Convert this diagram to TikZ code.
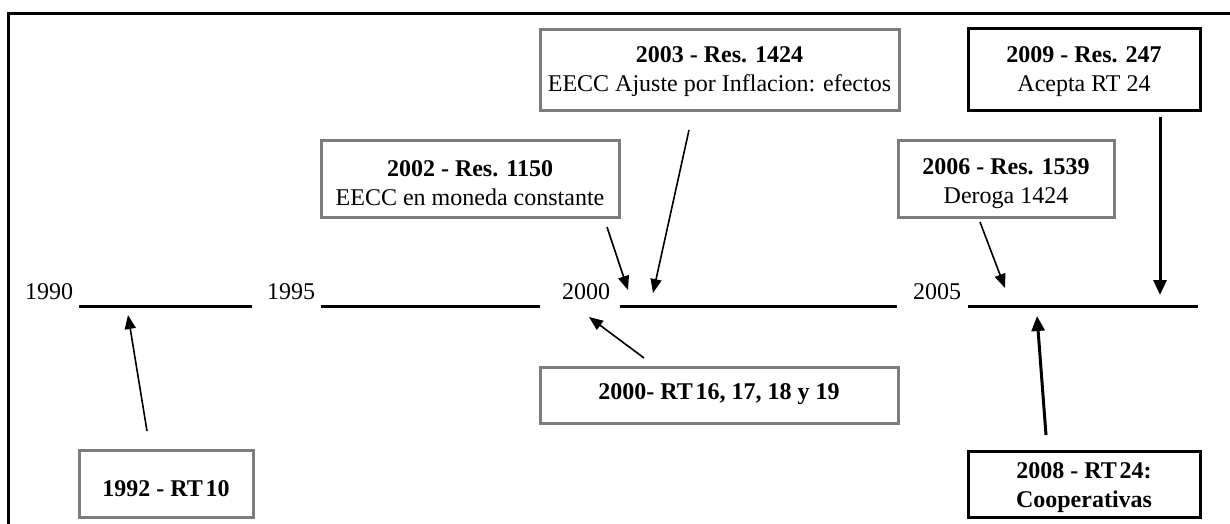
\documentclass[tikz,border=0pt]{standalone}
\usepackage{fontspec}
\setmainfont{Liberation Serif}
\usetikzlibrary{arrows.meta}
\definecolor{boxgray}{RGB}{125,125,125}
\begin{document}
\begin{tikzpicture}[x=1pt,y=-1pt,
  txt/.style={font=\fontsize{24}{29}\selectfont, align=center, inner sep=0pt},
  gbox/.style={draw=boxgray, line width=3pt, fill=white, inner sep=0pt},
  kbox/.style={draw=black, line width=3pt, fill=white, inner sep=0pt},
  arr/.style={line width=1.6pt, -{Triangle[length=14pt,width=11pt]}},
  tarr/.style={line width=3pt, -{Triangle[length=15pt,width=13pt]}},
  tline/.style={line width=3pt},
  yearlbl/.style={font=\fontsize{24}{26}\selectfont, inner sep=0pt}]
\useasboundingbox (0,0) rectangle (1230,524);
\fill[white] (0,0) rectangle (1230,524);
% frame
\draw[line width=3pt] (8.5,620) -- (8.5,14) -- (1300,14);

% boxes
\node[gbox, minimum width=359, minimum height=81,
  label={[txt,yshift=-2pt]center:{\textbf{2003 - Res. 1424}\\EECC Ajuste por Inflacion: efectos}}]
  (b2003) at (719.5,70) {};
\node[kbox, minimum width=232, minimum height=82,
  label={[txt,yshift=-2pt]center:{\textbf{2009 - Res. 247}\\Acepta RT 24}}]
  (b2009) at (1084,70) {};
\node[gbox, minimum width=298, minimum height=77,
  label={[txt,yshift=-5pt]center:{\textbf{2002 - Res. 1150}\\EECC en moneda constante}}]
  (b2002) at (470,178.5) {};
\node[gbox, minimum width=216, minimum height=77,
  label={[txt,yshift=-5pt]center:{\textbf{2006 - Res. 1539}\\Deroga 1424}}]
  (b2006) at (1006,178.5) {};
\node[gbox, minimum width=358, minimum height=56,
  label={[txt,yshift=1pt]center:{\textbf{2000- RT\hspace{0.12em}16, 17, 18 y 19}}}]
  (b2000) at (719,395) {};
\node[gbox, minimum width=174, minimum height=67,
  label={[txt,yshift=-5pt]center:{\textbf{1992 - RT\hspace{0.12em}10}}}]
  (b1992) at (166,483.5) {};
\node[kbox, minimum width=232, minimum height=66,
  label={[txt,yshift=-4pt]center:{\textbf{2008 - RT\hspace{0.12em}24:}\\\textbf{Cooperativas}}}]
  (b2008) at (1084,484) {};

% timeline
\node[yearlbl] (y1990) at (49,292) {1990};
\node[yearlbl] (y1995) at (291,292) {1995};
\node[yearlbl] (y2000) at (586,292) {2000};
\node[yearlbl] (y2005) at (937,292) {2005};
\coordinate (l1a) at (79,306);  \coordinate (l1b) at (252,306);
\coordinate (l2a) at (321,306); \coordinate (l2b) at (540,306);
\coordinate (l3a) at (620,306); \coordinate (l3b) at (897,306);
\coordinate (l4a) at (968,306); \coordinate (l4b) at (1198,306);
\draw[tline] (l1a) -- (l1b);
\draw[tline] (l2a) -- (l2b);
\draw[tline] (l3a) -- (l3b);
\draw[tline] (l4a) -- (l4b);

% arrow ends
\coordinate (s1992) at (147,431);  \coordinate (t1992) at (128,315);
\coordinate (s2000) at (644,358);  \coordinate (t2000) at (589,317);
\coordinate (s2002) at (607,227);  \coordinate (t2002) at (628,290);
\coordinate (s2003) at (689,130);  \coordinate (t2003) at (653,293);
\coordinate (s2006) at (980,222);  \coordinate (t2006) at (1005,288);
\coordinate (s2009) at (1160,117); \coordinate (t2009) at (1160,295);
\coordinate (s2008) at (1046,435); \coordinate (t2008) at (1037,316);

\draw[arr] (s1992) -- (t1992);
\draw[arr] (s2000) -- (t2000);
\draw[arr] (s2002) -- (t2002);
\draw[arr] (s2003) -- (t2003);
\draw[arr] (s2006) -- (t2006);
\draw[tarr] (s2009) -- (t2009);
\draw[tarr] (s2008) -- (t2008);
\end{tikzpicture}
\end{document}
